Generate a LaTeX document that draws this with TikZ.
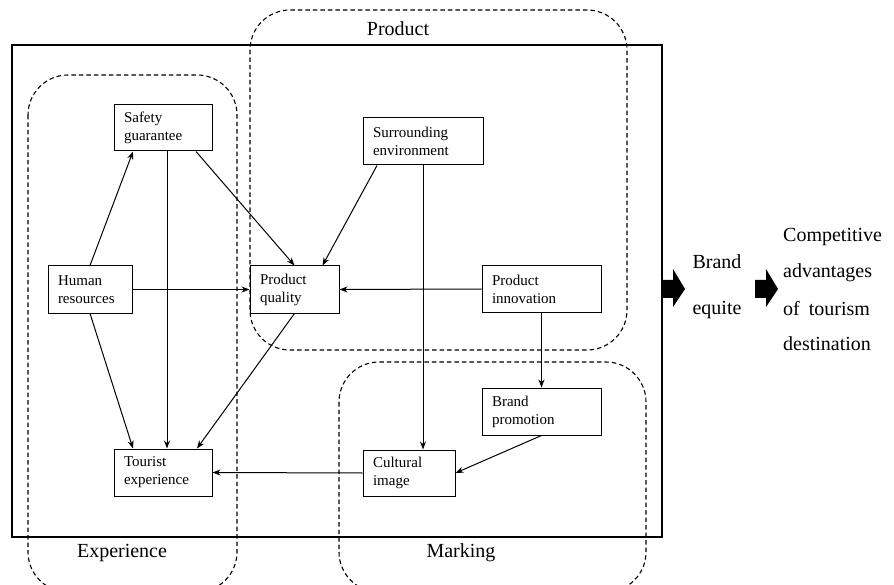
\documentclass[tikz,border=0pt]{standalone}
\usepackage{fontspec}
\setmainfont{Liberation Serif}
\usetikzlibrary{arrows.meta}
\begin{document}
\begin{tikzpicture}[x=1pt,y=-1pt,
  box/.style={draw, line width=1pt, fill=white, align=left, inner xsep=10pt, inner ysep=2pt,
    font=\fontsize{15}{18}\selectfont, anchor=center},
  region/.style={draw, line width=1.1pt, dash pattern=on 4.5pt off 3pt, rounded corners=40pt},
  conn/.style={line width=1pt, -{Stealth[length=8pt,width=6pt]}},
  biglabel/.style={font=\fontsize{20}{24}\selectfont, inner sep=0pt},
  blockarrow/.style={fill=black, draw=none}]
\useasboundingbox (0,0) rectangle (894,585);
% regions
\draw[region] (250,10) rectangle (627,350);
\draw[region] (28,75) rectangle (237,592);
\draw[region] (339,362) rectangle (646,592);
% main box
\draw[line width=2pt] (12,45) rectangle (662,537);
% region labels
\node[biglabel] (lprod) at (398,29) {Product};
\node[biglabel] (lexp) at (122,553) {Experience};
\node[biglabel] (lmark) at (461,553) {Marking};
% boxes
\node[box, text width=78pt, minimum height=46pt] (sg) at (163,128) {Safety\\guarantee};
\node[box, text width=100pt, minimum height=47pt] (se) at (423,141.5) {Surrounding\\environment};
\node[box, text width=64pt, minimum height=47pt] (hr) at (90,289.5) {Human\\resources};
\node[box, text width=69pt, minimum height=47pt] (pq) at (294.5,289.5) {Product\\quality};
\node[box, text width=99pt, minimum height=46pt] (pi) at (541.5,289) {Product\\innovation};
\node[box, text width=99pt, minimum height=47pt] (bp) at (541.5,411.5) {Brand\\promotion};
\node[box, text width=78pt, minimum height=47pt] (te) at (163,472.5) {Tourist\\experience};
\node[box, text width=72pt, minimum height=46pt] (ci) at (409,473) {Cultural\\image};
% connectors
\draw[conn] (hr.north) -- ([xshift=-30pt]sg.south);
\draw[conn] ([xshift=33pt]sg.south) -- (pq.north);
\draw[conn] ([xshift=-46pt]se.south) -- ([xshift=28pt]pq.north);
\draw[conn] (hr.east) -- (pq.west);
\draw[conn] (pi.west) -- (pq.east);
\draw[conn] ([xshift=4pt]sg.south) -- ([xshift=4pt]te.north);
\draw[conn] (hr.south) -- ([xshift=-30pt]te.north);
\draw[conn] (pq.south) -- ([xshift=34pt]te.north);
\draw[conn] (se.south) -- ([xshift=14pt]ci.north);
\draw[conn] (pi.south) -- (bp.north);
\draw[conn] (bp.south) -- (ci.east);
\draw[conn] (ci.west) -- (te.east);
% block arrows
\fill[blockarrow] (662,280) -- (673,280) -- (673,269) -- (685,289) -- (673,307) -- (673,298) -- (662,298) -- cycle;
\fill[blockarrow] (755,280) -- (766,280) -- (766,269) -- (778,289) -- (766,307) -- (766,298) -- (755,298) -- cycle;
% right texts
\node[biglabel] (brand) at (717,262) {Brand};
\node[biglabel] (equite) at (717,310) {equite};
\node[biglabel, anchor=west] (c1) at (783,237) {Competitive};
\node[biglabel, anchor=west] (c2) at (783,273) {advantages};
\node[biglabel, anchor=west] (c3) at (783,309) {of\hspace{9pt}tourism};
\node[biglabel, anchor=west] (c4) at (783,344) {destination};
\end{tikzpicture}
\end{document}
